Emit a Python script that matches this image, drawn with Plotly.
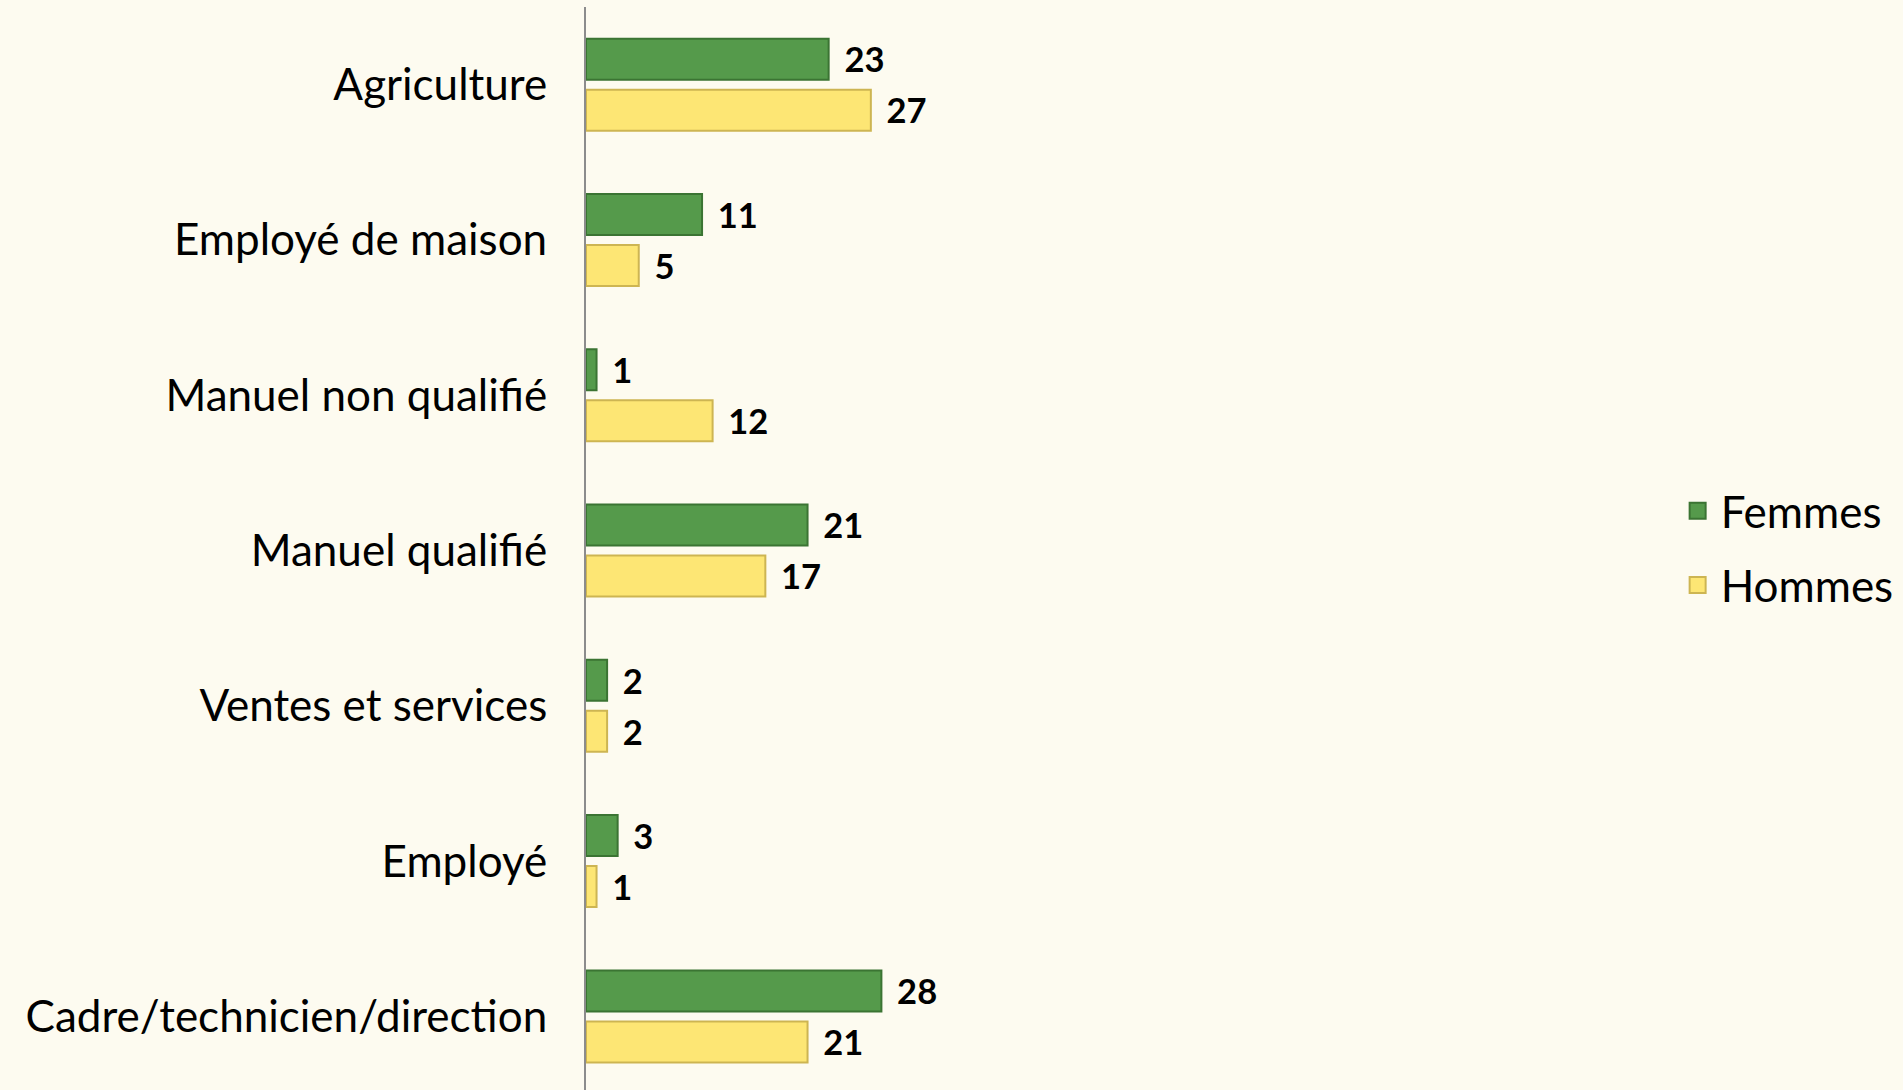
import plotly.graph_objects as go

categories = ["Agriculture", "Employé de maison", "Manuel non qualifié", "Manuel qualifié",
              "Ventes et services", "Employé", "Cadre/technicien/direction"]
femmes = [23, 11, 1, 21, 2, 3, 28]
hommes = [27, 5, 12, 17, 2, 1, 21]
series_names = ["Femmes", "Hommes"]

W, H = 1903, 1090
left, top = 586, 7
px_per_unit = 10.55
plot_w = 1055
right = W - left - plot_w
font_family = "Lato, 'Open Sans', sans-serif"
fills = ["#559A4B", "#FDE674"]
edges = ["#3B7433", "#CDB552"]

fig = go.Figure()
for name, vals, fc, ec in zip(series_names, [femmes, hommes], fills, edges):
    fig.add_trace(go.Bar(
        y=categories, x=vals, name=name, orientation="h", showlegend=False,
        marker=dict(color=fc, line=dict(color=ec, width=2)),
        text=vals, texttemplate="\u00a0\u2009%{text}", textposition="outside", cliponaxis=False,
        textfont=dict(family=font_family, size=48, color="#000000", weight="bold"),
    ))
for name, fc, ec in zip(series_names, fills, edges):
    fig.add_trace(go.Scatter(
        x=[None], y=[None], mode="markers", name=name, legendgroup=name,
        marker=dict(symbol="square", size=16, color=fc, line=dict(color=ec, width=2)),
    ))

fig.update_layout(
    width=W, height=H,
    paper_bgcolor="#FDFBF0", plot_bgcolor="#FDFBF0",
    margin=dict(l=left, r=right, t=top, b=0, pad=0),
    barmode="group", bargap=0.343, bargroupgap=0.196,
    font=dict(family=font_family, size=44, color="#000000"),
    showlegend=True,
    legend=dict(xref="container", yref="container", x=0.880, y=0.497,
                xanchor="left", yanchor="middle", bgcolor="rgba(0,0,0,0)",
                font=dict(size=44, family=font_family), itemwidth=36,
                tracegroupgap=14, itemsizing="trace"),
)
fig.update_xaxes(range=[0, plot_w / px_per_unit], showgrid=False, zeroline=False,
                 showticklabels=False, showline=False, ticks="")
fig.update_yaxes(type="category", categoryorder="array", categoryarray=categories,
                 range=[6.474, -0.5], showgrid=False, zeroline=False,
                 showline=True, linecolor="#8C8C8C", linewidth=2, ticks="",
                 ticklabelstandoff=28, tickfont=dict(size=44, family=font_family))

fig.write_html("out.html", config={"displayModeBar": False},
               post_script="document.body.style.margin='0';document.body.style.background='#FDFBF0';")
